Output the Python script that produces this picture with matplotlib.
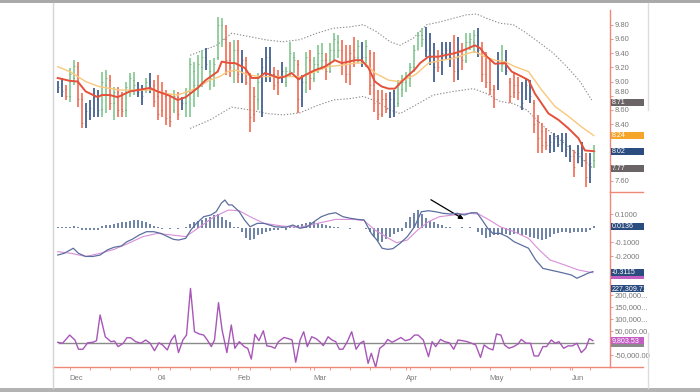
import matplotlib
matplotlib.use("Agg")
import matplotlib.pyplot as plt
from matplotlib.patches import Rectangle
from matplotlib.lines import Line2D
from matplotlib.transforms import blended_transform_factory

plt.rcParams['font.family'] = ['Liberation Sans', 'DejaVu Sans']

# ---------------- data ----------------
high = [9.01, 9.05, 8.95, 9.19, 9.30, 9.28, 8.84, 8.70, 8.74, 8.91,
        8.88, 9.13, 9.16, 9.09, 8.92, 8.92, 8.85, 8.99, 9.12, 9.13,
        8.99, 8.95, 9.05, 9.12, 9.02, 9.09, 8.99, 8.88, 8.81, 8.88,
        8.85, 8.78, 8.91, 9.33, 9.28, 9.37, 9.44, 9.47, 9.30, 9.33,
        9.91, 9.89, 9.80, 9.56, 9.585, 9.585, 9.44, 9.35, 9.12, 8.92,
        9.12, 9.33, 9.49, 9.49, 9.20, 9.16, 9.28, 9.20, 9.56, 9.42,
        9.30, 9.09, 9.42, 9.44, 9.35, 9.51, 9.54, 9.40, 9.54, 9.68,
        9.66, 9.585, 9.51, 9.51, 9.63, 9.585, 9.56, 9.585, 9.44, 9.42,
        8.88, 8.88, 8.84, 8.85, 8.88, 9.02, 9.09, 9.13, 9.26, 9.51,
        9.70, 9.75, 9.77, 9.68, 9.54, 9.44, 9.56, 9.56, 9.56, 9.66,
        9.63, 9.54, 9.68, 9.68, 9.73, 9.75, 9.56, 9.42, 9.33, 8.95,
        9.42, 9.51, 9.44, 9.05, 9.12, 9.06, 8.99, 9.05, 9.02, 8.74,
        8.53, 8.42, 8.35, 8.25, 8.28, 8.25, 8.28, 8.28, 8.11, 8.04,
        8.11, 8.15, 7.99, 7.99, 8.11]
low = [8.84, 8.78, 8.74, 8.71, 8.95, 8.64, 8.35, 8.35, 8.46, 8.50,
       8.50, 8.50, 8.56, 8.60, 8.46, 8.50, 8.50, 8.50, 8.78, 8.81,
       8.78, 8.67, 8.84, 8.84, 8.64, 8.46, 8.50, 8.39, 8.36, 8.56,
       8.46, 8.60, 8.50, 8.50, 8.64, 8.78, 8.92, 9.16, 8.88, 8.92,
       9.30, 9.49, 9.09, 9.06, 8.98, 8.98, 8.98, 8.95, 8.29, 8.43,
       8.60, 8.50, 8.99, 8.99, 8.88, 8.81, 8.98, 8.92, 9.06, 9.12,
       8.56, 8.64, 8.84, 8.88, 8.99, 9.12, 9.16, 9.02, 9.12, 9.30,
       9.33, 9.09, 8.98, 8.95, 9.20, 9.26, 9.20, 9.20, 8.81, 8.57,
       8.46, 8.50, 8.56, 8.49, 8.50, 8.64, 8.78, 8.85, 8.92, 9.13,
       9.44, 9.49, 9.35, 9.23, 8.99, 9.13, 9.09, 9.30, 9.20, 8.99,
       9.02, 9.16, 9.26, 9.44, 9.40, 9.35, 8.99, 8.91, 8.81, 8.63,
       8.88, 9.13, 9.09, 8.70, 8.77, 8.74, 8.60, 8.74, 8.70, 8.28,
       7.99, 7.99, 8.04, 7.99, 8.01, 8.08, 8.01, 7.94, 7.87, 7.66,
       7.85, 7.80, 7.51, 7.57, 7.78]
open_ = [8.90, 8.95, 8.90, 8.80, 9.05, 9.20, 8.75, 8.45, 8.55, 8.62,
         8.75, 8.62, 8.95, 9.02, 8.70, 8.85, 8.62, 8.60, 8.90, 9.02,
         8.95, 8.85, 8.88, 9.00, 8.95, 8.80, 8.60, 8.80, 8.50, 8.60,
         8.78, 8.62, 8.70, 8.85, 9.15, 8.95, 9.20, 9.35, 9.15, 9.05,
         9.35, 9.80, 9.60, 9.30, 9.15, 9.45, 9.10, 9.30, 9.05, 8.55,
         8.75, 9.00, 9.20, 9.35, 9.10, 9.00, 9.05, 9.00, 9.15, 9.35,
         9.25, 8.80, 9.00, 9.30, 9.05, 9.25, 9.40, 9.30, 9.15, 9.45,
         9.55, 9.45, 9.25, 9.10, 9.45, 9.35, 9.50, 9.35, 9.40, 8.95,
         8.75, 8.55, 8.75, 8.62, 8.75, 8.70, 8.90, 9.00, 9.05, 9.20,
         9.45, 9.65, 9.60, 9.45, 9.35, 9.30, 9.20, 9.40, 9.45, 9.35,
         9.15, 9.45, 9.30, 9.55, 9.55, 9.65, 9.45, 9.10, 9.00, 8.90,
         8.95, 9.30, 9.25, 9.00, 8.85, 8.95, 8.85, 8.75, 8.95, 8.70,
         8.45, 8.30, 8.15, 8.10, 8.15, 8.20, 8.12, 8.15, 8.05, 7.95,
         7.85, 8.00, 7.90, 7.65, 7.90]
close = [8.93, 8.86, 8.79, 9.10, 9.22, 8.75, 8.42, 8.58, 8.63, 8.78,
         8.60, 9.00, 9.05, 8.70, 8.85, 8.60, 8.58, 8.92, 9.05, 8.95,
         8.85, 8.80, 9.00, 8.93, 8.72, 8.55, 8.85, 8.48, 8.45, 8.80,
         8.55, 8.70, 8.85, 9.25, 8.95, 9.25, 9.35, 9.25, 9.05, 9.25,
         9.80, 9.60, 9.30, 9.20, 9.45, 9.10, 9.30, 9.00, 8.50, 8.80,
         9.00, 9.20, 9.35, 9.10, 8.95, 9.05, 9.15, 9.15, 9.40, 9.30,
         8.75, 9.00, 9.35, 9.05, 9.25, 9.40, 9.30, 9.15, 9.45, 9.60,
         9.45, 9.25, 9.10, 9.40, 9.35, 9.50, 9.35, 9.50, 8.95, 8.70,
         8.55, 8.75, 8.62, 8.75, 8.65, 8.95, 9.00, 9.05, 9.20, 9.45,
         9.65, 9.60, 9.45, 9.35, 9.20, 9.20, 9.40, 9.45, 9.35, 9.15,
         9.45, 9.30, 9.55, 9.60, 9.65, 9.45, 9.10, 9.00, 8.90, 8.75,
         9.30, 9.25, 9.15, 8.80, 8.95, 8.85, 8.70, 8.95, 8.80, 8.40,
         8.20, 8.10, 8.10, 8.15, 8.20, 8.12, 8.18, 8.05, 7.95, 7.80,
         8.00, 7.90, 7.65, 7.85, 8.02]
impulse = ("BBRGGRRBBBBGGRGRRGGGBBGBRRRRRGRBGGGGGBGGGGRRGRBRRRGBBBRRBGGGRBGRGGGRGGGRRRRGBGRRRRRBBGGGGGGGBBBRBBBRBRGGGBRRRRBGBRRRBBBRRRRBBBBBBRBBRBG")

ema13_day = [0, 3, 5, 7, 10, 11, 13, 15, 18, 20, 23, 25, 28, 30, 32, 35, 37, 40, 41, 43,
             44.3, 46.8, 48.5, 50.2, 51.8, 53.5, 55.2, 56.8, 58.5, 60.2, 61.8, 64.3, 66.8,
             69.3, 71, 72.7, 74.3, 76, 77.7, 79.3, 81, 82.7, 84.3, 86, 87.7, 89.3, 90.6,
             92.7, 95.2, 96.8, 99.3, 101, 102.7, 104.3, 105.6, 107.3, 109.3, 111.8, 113.5,
             116, 117.7, 119.3, 121, 122.7, 125.2, 127.7, 130.2, 131.8, 134]
ema13_val = [9.05, 9.01, 9.00, 8.86, 8.78, 8.81, 8.81, 8.78, 8.86, 8.88, 8.91, 8.86, 8.80,
             8.74, 8.78, 8.91, 9.02, 9.14, 9.28, 9.26,
             9.26, 9.19, 9.05, 9.05, 9.12, 9.09, 9.05, 9.07, 9.12, 9.03, 9.09, 9.16, 9.21,
             9.30, 9.26, 9.28, 9.30, 9.30, 9.19, 9.00, 8.93, 8.90, 8.90, 9.00, 9.09, 9.17,
             9.26, 9.35, 9.35, 9.37, 9.40, 9.43, 9.47, 9.51, 9.47, 9.35, 9.25, 9.26, 9.14,
             9.07, 9.02, 8.83, 8.69, 8.55, 8.46, 8.34, 8.20, 8.03, 8.02]
ema26_day = [0, 3, 7, 10.3, 15.5, 20.5, 23.8, 27.2, 30, 34.5, 38, 40.5, 42.5, 44.7,
             47.7, 51, 56, 61, 64.3, 67.7, 71, 74.3, 76.8, 79.3, 82.7, 85.2, 87.7, 89.5,
             92.7, 96, 99.3, 102.7, 104.3, 106.8, 109.3, 111.8, 114.3, 117.7, 121, 124.3,
             127.7, 131, 134]
ema26_val = [9.21, 9.14, 9.00, 8.93, 8.88, 8.88, 8.88, 8.83, 8.81, 8.90, 9.02, 9.07, 9.14,
             9.16, 9.09, 9.07, 9.07, 9.07, 9.14, 9.21, 9.23, 9.26, 9.26, 9.12, 9.02, 9.00,
             9.05, 9.10, 9.26, 9.30, 9.33, 9.40, 9.42, 9.35, 9.30, 9.28, 9.21, 9.14, 8.88,
             8.65, 8.51, 8.36, 8.24]
upper_day = [33.1, 39.75, 43.5, 48.1, 52.25, 56.3, 60.6, 64.75, 68.9, 73.1, 76.4, 79.75,
             83.1, 85.6, 88.9, 92.25, 95.6, 98.9, 102.25, 104.75, 107.25, 110.6, 113.9,
             117.25, 120.6, 123.9, 127.25, 130.6, 133.5]
upper_val = [9.37, 9.51, 9.68, 9.63, 9.585, 9.56, 9.59, 9.68, 9.75, 9.77, 9.80, 9.70,
             9.56, 9.51, 9.61, 9.80, 9.84, 9.89, 9.94, 9.95, 9.89, 9.82, 9.80, 9.68, 9.54,
             9.40, 9.21, 9.00, 8.74]
lower_day = [33.1, 38.1, 43.5, 48.1, 52.25, 56.4, 60.6, 64.75, 68.9, 73.1, 76.4, 79.75,
             83.1, 85.6, 88.9, 93.9, 98.9, 103.9, 107.25, 110.6, 113.9, 117.25, 121,
             125.6, 130, 133.8]
lower_val = [8.34, 8.46, 8.64, 8.60, 8.55, 8.53, 8.56, 8.66, 8.74, 8.76, 8.79, 8.72, 8.60,
             8.55, 8.65, 8.81, 8.86, 8.90, 8.83, 8.72, 8.69, 8.60, 8.39, 8.18, 7.97, 7.78]

macd_day = [0, 1.6, 3.9, 5.2, 7, 8.8, 10.6, 12.4, 14.1, 15.9, 17.3, 18.6, 20.4, 22.2, 24,
            25.8, 27.5, 28.9, 30.2, 32, 33.3, 34.7, 36.5, 38.3, 39.6, 40.9, 41.8, 42.7,
            43.6, 44.5, 45.4, 46.7, 48.1, 49.9, 51.6, 54.3, 57, 58.8, 60.6, 62.4, 64.1,
            65.9, 67.7, 69.5, 71.3, 73.1, 74.9, 76.6, 78.4, 79.8, 81.1, 82.5, 83.8, 85.6,
            87.4, 89.2, 90.9, 92.7, 94.5, 96.3, 98.1, 99.9, 101.7, 103.4, 104.8, 106.1,
            107.5, 108.8, 110.6, 112.4, 114.1, 115.9, 117.7, 119.5, 121.3, 123.1, 124.9,
            126.7, 128.4, 129.8, 131.1, 132.5, 133.8]
macd_val = [-0.19, -0.178, -0.142, -0.178, -0.20, -0.20, -0.19, -0.154, -0.135, -0.126,
            -0.096, -0.079, -0.048, -0.025, -0.025, -0.037, -0.06, -0.079, -0.084, -0.072,
            -0.013, 0.034, 0.081, 0.093, 0.116, 0.176, 0.199, 0.164, 0.164, 0.14, 0.116,
            0.058, 0.01, 0.034, 0.034, 0.01, 0.006, 0.022, -0.001, 0.01, 0.046, 0.081, 0.10,
            0.109, 0.081, 0.07, 0.062, 0.058, -0.037, -0.084, -0.142, -0.15, -0.145, -0.107,
            -0.06, 0.01, 0.116, 0.123, 0.116, 0.105, 0.10, 0.105, 0.093, 0.109, 0.109, 0.058,
            -0.001, -0.037, -0.037, -0.06, -0.096, -0.119, -0.142, -0.225, -0.284, -0.296,
            -0.307, -0.319, -0.331, -0.354, -0.338, -0.319, -0.307]
signal_day = [0, 3.4, 7, 10.6, 14.1, 17.7, 21.3, 24.9, 28.4, 32, 35.6, 39.1, 42.7, 45.4,
              48.1, 51.6, 56.1, 60.6, 65, 69.5, 74, 76.6, 79.3, 82, 84.7, 87.4, 90, 92.7,
              95.4, 99, 102.5, 105.2, 107.9, 110.6, 114.1, 117.7, 120.4, 123.1, 126.7,
              130.2, 133.8]
signal_val = [-0.166, -0.178, -0.20, -0.178, -0.15, -0.107, -0.06, -0.037, -0.048, -0.06,
              0.01, 0.081, 0.128, 0.123, 0.081, 0.034, 0.015, 0.006, 0.034, 0.062, 0.062,
              0.053, -0.013, -0.06, -0.103, -0.084, -0.013, 0.046, 0.081, 0.093, 0.105, 0.10,
              0.058, 0.01, -0.025, -0.072, -0.154, -0.225, -0.26, -0.296, -0.315]
hist = [0.01, 0.005, 0.005, 0.01, 0.015, 0.005, -0.01, -0.015, -0.015, -0.012,
        -0.01, 0.015, 0.02, 0.025, 0.03, 0.035, 0.04, 0.045, 0.05, 0.06,
        0.055, 0.05, 0.04, 0.03, 0.015, 0.005, -0.005, 0.0, -0.005, 0.003,
        -0.005, 0.0, 0.005, 0.03, 0.045, 0.05, 0.06, 0.07, 0.08, 0.09,
        0.10, 0.08, 0.06, 0.04, 0.01, 0.005, -0.03, -0.07, -0.085, -0.075,
        -0.05, -0.04, -0.03, -0.02, -0.015, -0.01, 0.01, -0.01, 0.005, 0.01,
        0.02, 0.03, 0.035, 0.04, 0.04, 0.035, 0.03, 0.02, 0.015, 0.01,
        0.005, 0.0, 0.003, -0.003, 0.0, 0.003, 0.0, -0.003, -0.03, -0.06,
        -0.09, -0.10, -0.08, -0.06, -0.04, -0.03, -0.02, 0.04, 0.08, 0.11,
        0.13, 0.10, 0.07, 0.05, 0.04, 0.03, 0.02, 0.01, 0.005, 0.0,
        0.003, 0.005, 0.0, 0.005, 0.003, -0.03, -0.05, -0.07, -0.06, -0.05,
        -0.045, -0.04, -0.04, -0.045, -0.04, -0.04, -0.045, -0.05, -0.06, -0.07,
        -0.08, -0.085, -0.075, -0.06, -0.04, -0.035, -0.03, -0.03, -0.035, -0.03,
        -0.03, -0.03, -0.025, -0.01, 0.0136]

force_day = [0, 1.2, 3.0, 4.3, 5.2, 6.3, 7.5, 8.8, 9.7, 10.6, 11.9, 13.3, 14.2, 15.1, 16.4,
             17.3, 18.2, 19.5, 20.8, 22, 23.1, 24.2, 25.3, 26.2, 27.4, 28.4, 29.3, 30.2,
             31.3, 32.2, 33.2, 34.2, 35.4, 36.5, 37.4, 38.4, 39.2, 40.2, 41.1, 42.3, 43.4,
             44.3, 45.4, 46.6, 47.5, 48.4, 49.3, 50.3, 51.4, 52.3, 53.4, 54.3, 55.2, 56.6,
             57.7, 58.6, 59.5, 60.6, 61.5, 62.4, 63.5, 64.6, 65.5, 66.4, 67.6, 68.6, 69.5,
             70.4, 71.3, 72.4, 73.5, 74.6, 75.6, 76.5, 77.6, 78.4, 79.5, 80.5, 81.6, 82.5,
             83.6, 84.7, 85.8, 86.9, 88.1, 89.2, 90.1, 91.4, 92.7, 93.6, 94.5, 95.7, 96.7,
             97.9, 99, 100.1, 101.2, 102.4, 103.4, 104.5, 105.7, 106.6, 107.7, 108.8, 109.7,
             110.8, 111.7, 112.8, 114, 115.1, 115.9, 117.1, 118.2, 119.1, 120.2, 121.3,
             122.2, 123.4, 124.4, 125.3, 126.5, 127.6, 128.7, 129.8, 130.9, 132, 132.9, 133.8]
force_val = [2900, -1000, 33000, 12500, -26000, -26000, 1000, 2900, 9700, 117000, 26000,
             5600, 8000, -15000, -1000, 22000, 22000, 5600, -1000, 12500, -1000, -32000,
             1000, -8000, -29000, 12500, 33000, -40000, 12500, 33000, 227309.71, 47000,
             37500, 33000, 12500, -15000, 12500, 168000, 54000, -40000, 75000, -22000, 5600,
             -15000, -22000, -67000, 36000, 9700, 51000, -12000, -15000, -22000, 5600, 23000,
             18000, 12500, -80000, 12500, 47000, -15000, 26000, 18000, 5600, -11000, 26000,
             12500, 5600, -26000, -26000, 5600, 47000, -26000, -1000, 8000, -85000, -43000,
             -101000, -22000, -8000, 15000, 3000, 12500, 23000, 9700, 15000, 33000, 33000,
             12500, -57000, 5600, -15000, 15000, 5600, 1000, -26000, 12500, 9700, 5600, -1000,
             -8000, -60000, -8000, -22000, -29000, 37500, 33000, -8000, -22000, -15000, -4000,
             15000, -1000, -1000, -54000, -54000, -15000, -15000, 12500, -1000, 5600, -22000,
             -12000, -12000, -1000, -40000, -22000, 18000, 9803.53]

price_ticks = [7.60, 7.80, 8.00, 8.20, 8.40, 8.60, 8.80, 9.00, 9.20, 9.40, 9.60, 9.80]
price_tick_labels = ['7.60', '', '', '', '8.40', '8.60', '8.80', '9.00', '9.20', '9.40',
                     '9.60', '9.80']
macd_ticks = [-0.3, -0.2, -0.1, 0.0, 0.1]
macd_tick_labels = ['', '-0.2000', '-0.1000', '', '0.1000']
force_ticks = [-50000, 0, 50000, 100000, 150000, 200000]
force_tick_labels = ['-50,000.00', '', '50,000.00', '100,000...', '150,000...', '200,000...']
month_pos = [3, 25, 45, 64, 87, 108, 128.5]
month_labels = ['Dec', '04', 'Feb', 'Mar', 'Apr', 'May', 'Jun']
price_marks = [(8.71, '#6b6466'), (8.24, '#f5a52a'), (8.02, '#2b4c7e'), (7.77, '#6b6466')]
macd_marks = [(-0.335, '#c35fc3', ''), (0.0136, '#2b4c7e', '0.0136'), (-0.3115, '#2b4c7e', '-0.3115')]
force_marks = [(-4000, '#8a8a8a', ''), (9803.53, '#c35fc3', '9,803.53'), (227309.71, '#2b4c7e', '227,309.71')]

# ---------------- layout ----------------
W, HT = 700, 392
fig = plt.figure(figsize=(7, 3.92), dpi=100)
fig.patch.set_facecolor('white')


def fx(px):
    return px / W


def fy(py):
    return 1 - py / HT


X0, X1 = 53, 610
SPINE = '#f08878'
TXT = '#7a7a7a'
BAR_COLORS = {'G': '#86c994', 'R': '#f2705a', 'B': '#3d5b8c'}


def make_ax(top, bottom):
    ax = fig.add_axes([fx(X0), fy(bottom), fx(X1) - fx(X0), (bottom - top) / HT])
    ax.set_xlim(-(57.7 - X0) / 4.0, (X1 - 57.7) / 4.0)
    for s in ['top', 'left', 'bottom']:
        ax.spines[s].set_visible(False)
    ax.spines['right'].set_color(SPINE)
    ax.spines['right'].set_linewidth(1.0)
    ax.yaxis.tick_right()
    ax.tick_params(axis='y', which='both', right=True, left=False, labelright=True,
                   labelleft=False, length=2.5, width=0.6, color=SPINE,
                   labelsize=5.5, labelcolor=TXT, pad=0.8)
    ax.set_xticks([])
    ax.patch.set_alpha(0)
    return ax


ax_p = make_ax(10, 192)
ax_m = make_ax(192, 283)
ax_f = make_ax(283, 367)
ax_p.set_ylim(7.445, 10.007)
ax_m.set_ylim(-0.3876, 0.2555)
ax_f.set_ylim(-100000, 250000)

# ---------------- price panel ----------------
n = len(high)
days = list(range(n))
for i in days:
    col = BAR_COLORS[impulse[i]]
    ax_p.vlines(i, low[i], high[i], color=col, lw=1.25, zorder=3)
    ax_p.hlines(open_[i], i - 0.3, i, color='#555555', lw=0.5, zorder=3, alpha=0.7)
    ax_p.hlines(close[i], i, i + 0.3, color='#555555', lw=0.5, zorder=3, alpha=0.7)

ax_p.plot(upper_day, upper_val, color='#8e8e8e', lw=0.8, ls=(0, (1.2, 1.6)), zorder=2)
ax_p.plot(lower_day, lower_val, color='#8e8e8e', lw=0.8, ls=(0, (1.2, 1.6)), zorder=2)
ax_p.plot(ema26_day, ema26_val, color='#f9c77c', lw=1.0, zorder=4)
ax_p.plot(ema13_day, ema13_val, color='#e4503a', lw=1.4, zorder=5)
ax_p.set_yticks(price_ticks)
ax_p.set_yticklabels(price_tick_labels)
for lab in ax_p.get_yticklabels():
    if lab.get_text() == '8.80':
        lab.set_verticalalignment('bottom')

# ---------------- MACD panel ----------------
ax_m.vlines(days, 0, hist, color='#46618f', lw=1.1, zorder=2)
ax_m.plot(signal_day, signal_val, color='#d88fd8', lw=0.8, zorder=3)
ax_m.plot(macd_day, macd_val, color='#5b6f9e', lw=0.9, zorder=4)
ax_m.set_yticks(macd_ticks)
ax_m.set_yticklabels(macd_tick_labels)
ax_m.annotate('', xy=(102.1, 0.053), xytext=(92.7, 0.211),
              arrowprops=dict(arrowstyle='-|>', color='black', lw=0.9, mutation_scale=7))

# ---------------- force index panel ----------------
ax_f.hlines(0, 0, n - 1, color='#8a8a8a', lw=1.0, zorder=2)
ax_f.plot(force_day, force_val, color='#a856b8', lw=1.0, zorder=3)
ax_f.set_yticks(force_ticks)
ax_f.set_yticklabels(force_tick_labels)
ax_f.spines['bottom'].set_visible(True)
ax_f.spines['bottom'].set_color(SPINE)
ax_f.spines['bottom'].set_linewidth(1.0)
ax_f.set_xticks(month_pos)
ax_f.set_xticklabels(month_labels)
ax_f.set_xticks([3 + 5 * k for k in range(27)], minor=True)
ax_f.tick_params(axis='x', which='both', bottom=True, length=2.5, width=0.6, color=SPINE,
                 labelsize=5.5, labelcolor=TXT, pad=3)
for lab in ax_f.get_xticklabels():
    lab.set_horizontalalignment('left')


# ---------------- value boxes on the right axis ----------------
def value_box(ax, val, color, text, hpx=7.0):
    trans = blended_transform_factory(fig.transFigure, ax.transData)
    y0, y1 = ax.get_ylim()
    axh = ax.get_position().height * HT
    hd = hpx * (y1 - y0) / axh
    ax.add_patch(Rectangle((fx(611), val - hd / 2), fx(644) - fx(611), hd, transform=trans,
                           facecolor=color, edgecolor='none', clip_on=False, zorder=6))
    if text:
        ax.text(fx(612), val, text, transform=trans, color='white', fontsize=5.1,
                va='center', ha='left', zorder=7, clip_on=False)


for v, c in price_marks:
    value_box(ax_p, v, c, '%.2f' % v)
for v, c, t in macd_marks:
    value_box(ax_m, v, c, t)
for v, c, t in force_marks:
    value_box(ax_f, v, c, t)

# ---------------- frame decorations ----------------
fig.add_artist(Line2D([fx(610), fx(643)], [fy(192), fy(192)], color=SPINE, lw=1.0))
fig.add_artist(Line2D([fx(610), fx(643)], [fy(367), fy(367)], color=SPINE, lw=1.0))
fig.add_artist(Line2D([fx(53), fx(53)], [fy(3), fy(388)], color='#d4d4d4', lw=1.0))
fig.add_artist(Line2D([fx(648), fx(648)], [fy(3), fy(110)], color='#dcdcdc', lw=1.0))
fig.add_artist(Line2D([fx(648), fx(648)], [fy(333), fy(388)], color='#dcdcdc', lw=1.0))
fig.add_artist(Rectangle((0, fy(3)), 1, 3 / HT, transform=fig.transFigure,
                         facecolor='#a9a9a9', edgecolor='none'))
fig.add_artist(Rectangle((0, 0), 1, 4 / HT, transform=fig.transFigure,
                         facecolor='#b3b3b3', edgecolor='none'))

fig.savefig('out.png', dpi=100, facecolor='white')
